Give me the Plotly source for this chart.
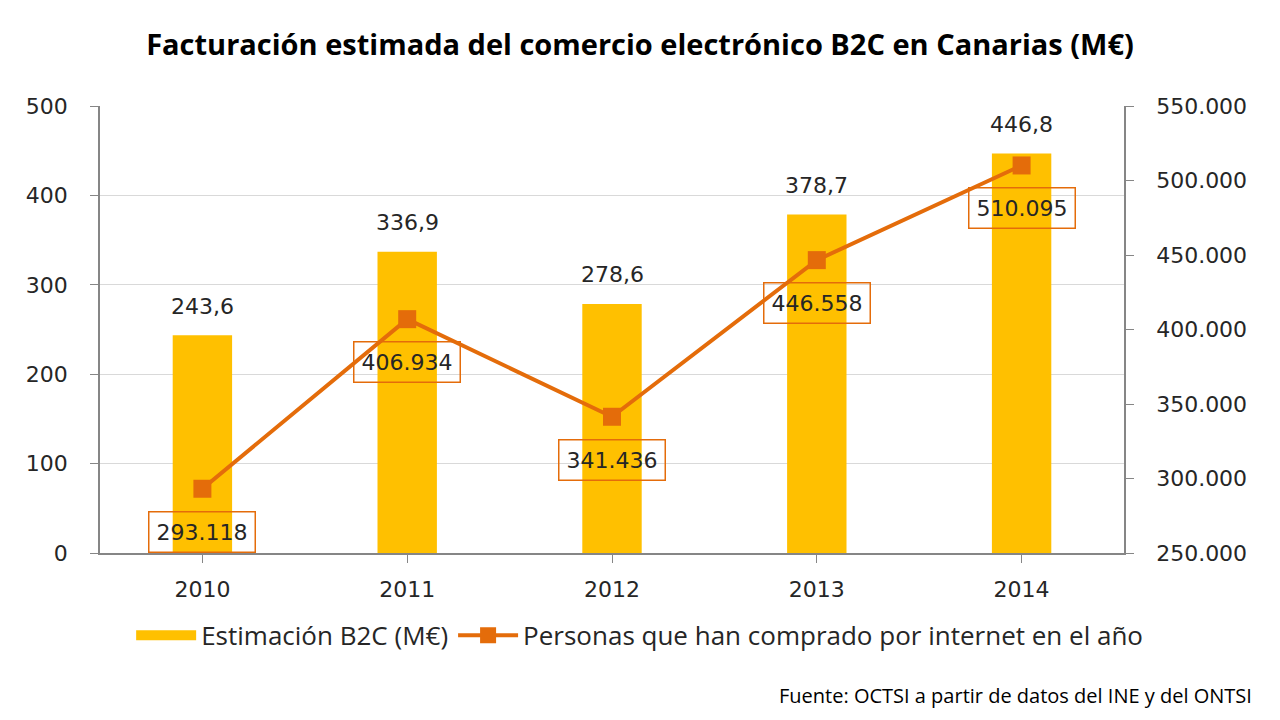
import plotly.graph_objects as go

years = [2010, 2011, 2012, 2013, 2014]
year_labels = ["2010", "2011", "2012", "2013", "2014"]
b2c = [243.6, 336.9, 278.6, 378.7, 446.8]
buyers = [293118, 406934, 341436, 446558, 510095]
left_ticks = [0, 100, 200, 300, 400, 500]
right_ticks = [250000, 300000, 350000, 400000, 450000, 500000, 550000]

BAR = "#FFC000"
LINE = "#E46C0A"
AX = "#868686"
TXT = "#262626"
NUMFONT = "DejaVu Sans"
TXTFONT = "Open Sans"

fig = go.Figure()
fig.add_trace(go.Bar(x=years, y=b2c, name="Estimación B2C (M€)", showlegend=False,
                     marker=dict(color=BAR, line=dict(width=0)), yaxis="y"))
# legend-only swatch for the bars (wide rectangle like the reference)
fig.add_trace(go.Scatter(x=[years[0]], y=[None], name="Estimación B2C (M€)", mode="lines",
                         line=dict(color=BAR, width=14), yaxis="y", showlegend=True))
fig.add_trace(go.Scatter(x=years, y=buyers, name="Personas que han comprado por internet en el año",
                         mode="lines+markers", yaxis="y2",
                         line=dict(color=LINE, width=4),
                         marker=dict(symbol="square", size=18, color=LINE)))

annotations = []
for x, v in zip(years, b2c):
    annotations.append(dict(x=x, y=v, xref="x", yref="y", text=f"{v:.1f}".replace(".", ","),
                            showarrow=False, yanchor="middle", yshift=29,
                            font=dict(family=NUMFONT, size=22, color=TXT)))
for x, v in zip(years, buyers):
    annotations.append(dict(x=x, y=v, xref="x", yref="y2", text=f"{v:,}".replace(",", "."),
                            showarrow=False, yanchor="middle", yshift=-43,
                            bordercolor=LINE, borderwidth=1.5, borderpad=7,
                            bgcolor="rgba(0,0,0,0)",
                            font=dict(family=NUMFONT, size=22, color=TXT)))
annotations.append(dict(x=1.0, y=0.0, xref="paper", yref="paper", xanchor="right", yanchor="middle",
                        xshift=130, yshift=-142, showarrow=False,
                        text="Fuente: OCTSI a partir de datos del INE y del ONTSI",
                        font=dict(family=TXTFONT, size=20, color="#000000")))

fig.update_layout(
    width=1280, height=720,
    margin=dict(l=100, r=156, t=106, b=167),
    paper_bgcolor="white", plot_bgcolor="white",
    separators=",.",
    title=dict(text="<b>Facturación estimada del comercio electrónico B2C en Canarias (M€)</b>",
               x=0.5, xanchor="center", y=1 - 45 / 720, yanchor="middle", xref="container",
               font=dict(family=TXTFONT, size=29, color="#000000")),
    bargap=0.71,
    showlegend=True,
    legend=dict(orientation="h", x=0.527, xanchor="center", y=-0.184, yanchor="middle",
                font=dict(family=TXTFONT, size=26, color=TXT), itemwidth=60,
                bgcolor="rgba(0,0,0,0)"),
    xaxis=dict(type="linear", range=[years[0] - 0.5, years[-1] + 0.5], tickvals=years,
               ticktext=year_labels, showline=True, linecolor=AX, linewidth=1.5,
               ticks="outside", ticklen=8, tickcolor=AX,
               tickfont=dict(family=NUMFONT, size=22, color=TXT),
               showgrid=False, zeroline=False, ticklabelstandoff=8),
    yaxis=dict(range=[0, 500], tickvals=left_ticks, showline=True, linecolor=AX, linewidth=1.5,
               ticks="outside", ticklen=8, tickcolor=AX, showgrid=True, gridcolor="#D9D9D9",
               gridwidth=1, zeroline=False,
               tickfont=dict(family=NUMFONT, size=22, color=TXT), ticklabelstandoff=18),
    yaxis2=dict(range=[250000, 550000], tickvals=right_ticks, overlaying="y", side="right",
                showline=True, linecolor=AX, linewidth=1.5, ticks="outside", ticklen=8,
                tickcolor=AX, showgrid=False, zeroline=False, tickformat=",d",
                tickfont=dict(family=NUMFONT, size=22, color=TXT), ticklabelstandoff=18),
    annotations=annotations,
)

fig.write_html("out.html")
